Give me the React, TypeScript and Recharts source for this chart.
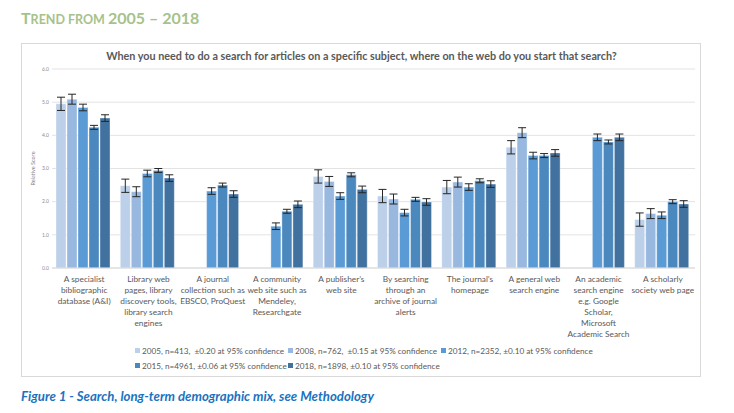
import { BarChart, Bar, XAxis, YAxis, CartesianGrid, ErrorBar, Legend } from 'recharts';

const CATEGORIES = [
  'A specialist\nbibliographic\ndatabase (A&I)',
  'Library web\npages, library\ndiscovery tools,\nlibrary search\nengines',
  'A journal\ncollection such as\nEBSCO, ProQuest',
  'A community\nweb site such as\nMendeley,\nResearchgate',
  'A publisher’s\nweb site',
  'By searching\nthrough an\narchive of journal\nalerts',
  'The journal’s\nhomepage',
  'A general web\nsearch engine',
  'An academic\nsearch engine\ne.g. Google\nScholar,\nMicrosoft\nAcademic Search',
  'A scholarly\nsociety web page',
];

const S2005 = [4.95, 2.48, null, null, 2.76, 2.17, 2.44, 3.64, null, 1.46];
const S2008 = [5.09, 2.3, null, null, 2.61, 2.08, 2.59, 4.08, null, 1.64];
const S2012 = [4.84, 2.85, 2.32, 1.26, 2.17, 1.67, 2.44, 3.39, 3.94, 1.59];
const S2015 = [4.24, 2.94, 2.5, 1.71, 2.81, 2.07, 2.63, 3.39, 3.8, 2.0];
const S2018 = [4.52, 2.71, 2.23, 1.92, 2.37, 1.99, 2.53, 3.47, 3.94, 1.93];

// ± at 95% confidence, per bar
const E2005 = [0.2, 0.2, null, null, 0.2, 0.2, 0.2, 0.2, null, 0.2];
const E2008 = [0.15, 0.15, null, null, 0.15, 0.15, 0.15, 0.15, null, 0.15];
const E2012 = [0.1, 0.1, 0.1, 0.1, 0.1, 0.1, 0.1, 0.1, 0.1, 0.1];
const E2015 = [0.06, 0.06, 0.06, 0.06, 0.06, 0.06, 0.06, 0.06, 0.06, 0.06];
const E2018 = [0.1, 0.1, 0.1, 0.1, 0.1, 0.1, 0.1, 0.1, 0.1, 0.1];

const Y_TICKS = [0, 1, 2, 3, 4, 5, 6];

const SERIES = [
  { key: 's2005', values: S2005, errors: E2005, color: '#bcd0ea', label: '2005, n=413,  ±0.20 at 95% confidence' },
  { key: 's2008', values: S2008, errors: E2008, color: '#98b8df', label: '2008, n=762,  ±0.15 at 95% confidence' },
  { key: 's2012', values: S2012, errors: E2012, color: '#5b9bd5', label: '2012, n=2352, ±0.10 at 95% confidence' },
  { key: 's2015', values: S2015, errors: E2015, color: '#4a88be', label: '2015, n=4961, ±0.06 at 95% confidence' },
  { key: 's2018', values: S2018, errors: E2018, color: '#40719f', label: '2018, n=1898, ±0.10 at 95% confidence' },
];

const data = CATEGORIES.map((name, i) => {
  const row: Record<string, unknown> = { name };
  SERIES.forEach((s) => {
    row[s.key] = s.values[i];
    row[s.key + 'Err'] = s.errors[i];
  });
  return row;
});

const FONT = 'Lato, "Open Sans", sans-serif';

function CategoryTick(props: any) {
  const { x, y, payload } = props;
  const lines = String(payload.value).split('\n');
  return (
    <text x={x} y={y + 14} textAnchor="middle" fill="#595959" fontSize={8.3} fontFamily={FONT}>
      {lines.map((l, i) => (
        <tspan key={i} x={x} dy={i === 0 ? 0 : 11}>
          {l}
        </tspan>
      ))}
    </text>
  );
}

function LegendBox() {
  return (
    <div style={{ display: 'flex', flexWrap: 'wrap', width: 470, marginLeft: 114, paddingTop: 5, height: 25 }}>
      {SERIES.map((s) => (
        <div
          key={s.key}
          style={{ width: 153, height: 15, display: 'flex', alignItems: 'center', fontSize: 8.2, color: '#595959', fontFamily: FONT, whiteSpace: 'pre' }}
        >
          <span style={{ width: 5, height: 5, background: s.color, marginRight: 2, display: 'inline-block', flex: 'none' }} />
          <span>{s.label}</span>
        </div>
      ))}
    </div>
  );
}

export default function App() {
  return (
    <div style={{ position: 'absolute', left: 0, top: 0, width: 734, height: 413, background: '#fff', fontFamily: FONT }}>
      <div style={{ position: 'absolute', left: 21, top: 6, color: '#a6c28b', fontWeight: 700, whiteSpace: 'nowrap', lineHeight: '24px' }}>
        <span style={{ fontSize: 16 }}>T</span>
        <span style={{ fontSize: 12.5 }}>REND FROM </span>
        <span style={{ fontSize: 16 }}>2005 – 2018</span>
      </div>
      <div style={{ position: 'absolute', left: 21, top: 43, width: 680, height: 334, border: '1px solid #d9d9d9', boxSizing: 'border-box' }} />
      <div style={{ position: 'absolute', left: 21, top: 47, width: 681, textAlign: 'center', color: '#595959', fontWeight: 700, fontSize: 10.8, lineHeight: '18px', whiteSpace: 'nowrap' }}>
        When you need to do a search for articles on a specific subject, where on the web do you start that search?
      </div>
      <div style={{ position: 'absolute', left: 21, top: 43 }}>
        <BarChart
          width={681}
          height={334}
          data={data}
          margin={{ top: 26, right: 7, bottom: 9, left: 0 }}
          barCategoryGap={4}
          barGap={1}
        >
          <CartesianGrid vertical={false} stroke="#e3e3e3" />
          <XAxis
            dataKey="name"
            interval={0}
            tickLine={false}
            tickSize={0}
            tickMargin={0}
            height={70}
            axisLine={{ stroke: '#d9d9d9' }}
            tick={<CategoryTick />}
          />
          <YAxis
            width={31}
            domain={[0, 6]}
            ticks={Y_TICKS}
            tickFormatter={(v: number) => v.toFixed(1)}
            axisLine={false}
            tickLine={false}
            tickSize={0}
            tickMargin={3}
            tick={{ fontSize: 5, fill: '#8c8c8c', fontFamily: FONT }}
            label={{
              content: (p: any) => {
                const vb = p.viewBox || { x: 0, y: 26, height: 199 };
                const cx = vb.x + 12;
                const cy = vb.y + vb.height / 2;
                return (
                  <text x={cx} y={cy} transform={`rotate(-90 ${cx} ${cy})`} textAnchor="middle" dominantBaseline="central" fontSize={5.5} fill="#7f7f7f" fontFamily={FONT}>
                    Relative Score
                  </text>
                );
              },
            }}
          />
          <Legend verticalAlign="bottom" wrapperStyle={{ left: 0, width: 681 }} content={() => <LegendBox />} />
          {SERIES.map((s) => (
            <Bar key={s.key} dataKey={s.key} fill={s.color} stroke="#ffffff" strokeOpacity={0.35} isAnimationActive={false}>
              <ErrorBar dataKey={s.key + 'Err'} width={4} stroke="#262626" strokeWidth={1} />
            </Bar>
          ))}
        </BarChart>
      </div>
      <div style={{ position: 'absolute', left: 21, top: 388, color: '#1a73c0', fontWeight: 700, fontStyle: 'italic', fontSize: 13.2, whiteSpace: 'nowrap' }}>
        Figure 1 - Search, long-term demographic mix, see Methodology
      </div>
    </div>
  );
}
